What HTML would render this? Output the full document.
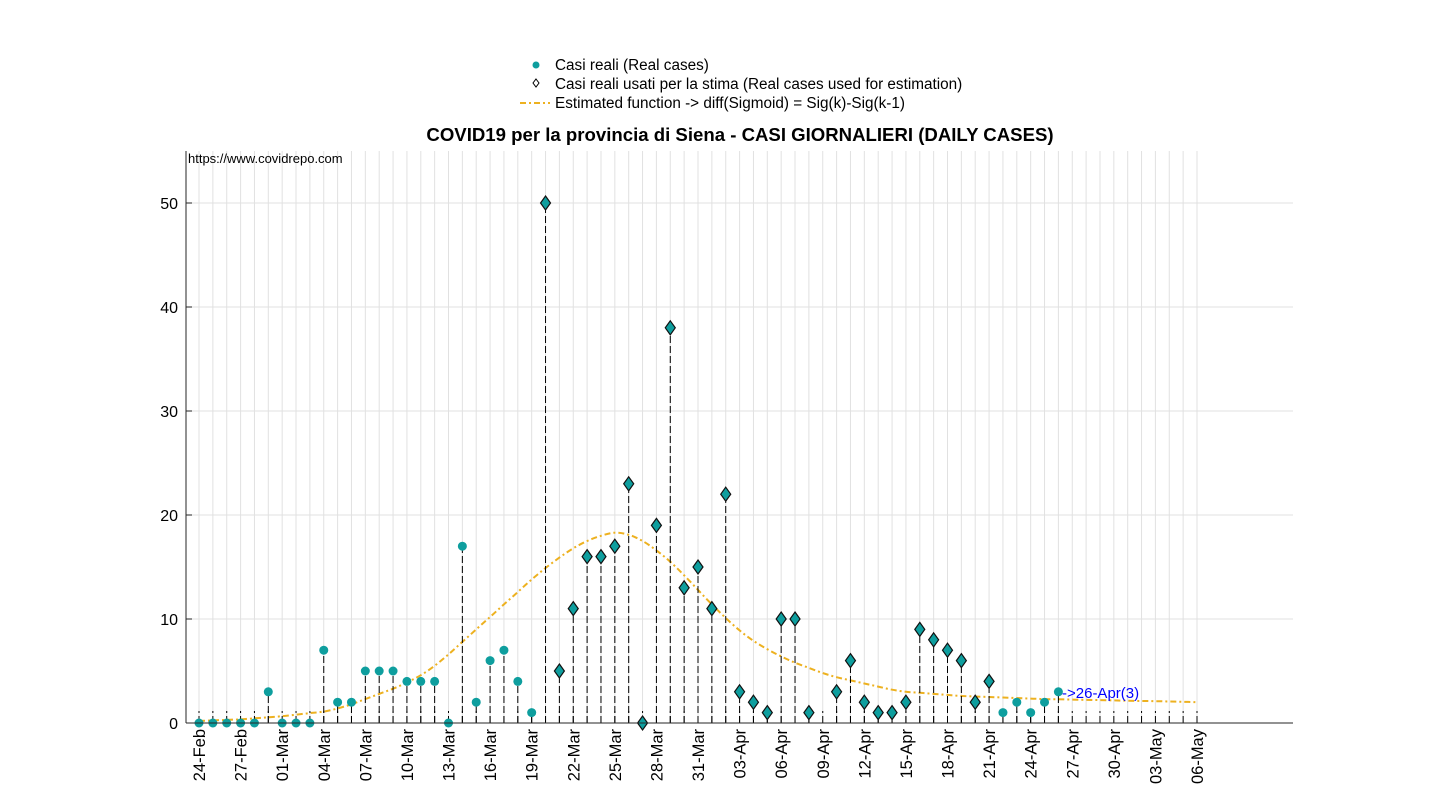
<!DOCTYPE html>
<html><head><meta charset="utf-8"><style>
body{margin:0;background:#fff;width:1430px;height:800px;overflow:hidden}
svg{font-family:"Liberation Sans",sans-serif}
</style></head><body>
<svg id="chart" width="1430" height="800">
<g id="legend">
 <g><circle cx="536" cy="65" r="3.5" fill="#0e9e9e"/><text x="555" y="70" font-size="15.3">Casi reali (Real cases)</text></g>
 <g><path d="M536,79 l3,4 l-3,4 l-3,-4z" fill="none" stroke="#000"/><text x="555" y="89" font-size="15.3">Casi reali usati per la stima (Real cases used for estimation)</text></g>
 <g><line x1="520" y1="103" x2="550" y2="103" stroke="#EDB120" stroke-width="2" stroke-dasharray="6,3,2,3"/><text x="555" y="108" font-size="15.3">Estimated function -&gt; diff(Sigmoid) = Sig(k)-Sig(k-1)</text></g>
</g>
<text x="740" y="141" font-size="18.6" font-weight="bold" text-anchor="middle">COVID19 per la provincia di Siena - CASI GIORNALIERI (DAILY CASES)</text>
<g id="grid"></g><g id="fit"></g><g id="stems"></g><g id="marks"></g><g id="axes"></g>
<text x="188" y="163" font-size="13">https://www.covidrepo.com</text>
<text x="1062" y="698" font-size="15" fill="#0000ff">-&gt;26-Apr(3)</text>
</svg>
<script>
const startDate = [2020, 1, 24];
const realCases = [0,0,0,0,0,3,0,0,0,7,2,2,5,5,5,4,4,4,0,17,2,6,7,4,1,50,5,11,16,16,17,23,0,19,38,13,15,11,22,3,2,1,10,10,1,null,3,6,2,1,1,2,9,8,7,6,2,4,1,2,1,2,3];
const usedFirst = 25, usedLast = 57;
const fitValues = [0.2,0.25,0.3,0.35,0.45,0.55,0.65,0.8,0.95,1.1,1.4,1.8,2.3,2.8,3.3,3.9,4.6,5.5,6.6,7.8,9.0,10.2,11.4,12.6,13.8,14.9,15.9,16.8,17.5,18.0,18.3,18.1,17.5,16.6,15.5,14.2,12.8,11.4,10.1,8.9,7.9,7.1,6.4,5.8,5.3,4.8,4.4,4.1,3.8,3.5,3.2,3.0,2.9,2.8,2.7,2.6,2.55,2.5,2.45,2.4,2.35,2.3,2.28,2.25,2.22,2.2,2.17,2.14,2.12,2.1,2.07,2.04,2.0];
const yTicks = [0,10,20,30,40,50];
const nDays = 73;
const X0=199, DX=(1197-199)/72, Y0=723, DY=10.4;
const xs=i=>X0+i*DX, ys=v=>Y0-v*DY;
const NS="http://www.w3.org/2000/svg";
function mk(tag,attrs,parent){const e=document.createElementNS(NS,tag);for(const k in attrs)e.setAttribute(k,attrs[k]);parent.appendChild(e);return e;}
const grid=document.getElementById('grid'),axes=document.getElementById('axes'),stems=document.getElementById('stems'),marks=document.getElementById('marks'),fit=document.getElementById('fit');
const mon=['Jan','Feb','Mar','Apr','May'];
for(let i=0;i<nDays;i++){
 const g=mk('line',{x1:xs(i),x2:xs(i),y1:151,y2:723,stroke:'#e1e1e1','stroke-width':1},grid);
 
 
 const s=mk('line',{x1:xs(i),x2:xs(i),y1:723,y2:711,stroke:'#000','stroke-width':1,'stroke-dasharray':'7,3'},stems);
 
 
 if(i%3===0){
  const d=new Date(startDate[0],startDate[1],startDate[2]+i);
  const lbl=String(d.getDate()).padStart(2,'0')+'-'+mon[d.getMonth()];
  const t=mk('text',{x:0,y:0,'font-size':16.5,'text-anchor':'end',transform:`translate(${xs(i)+6},729) rotate(-90)`},axes);
  t.textContent=lbl;
  
  
 }
}
yTicks.forEach(v=>{
 const l=mk('line',{x1:186,x2:1293,y1:ys(v),y2:ys(v),stroke:'#e1e1e1'},grid);
 
 
 mk('line',{x1:186,x2:192,y1:ys(v),y2:ys(v),stroke:'#262626'},axes);
 const t=mk('text',{x:178,y:ys(v)+6,'font-size':16,'text-anchor':'end'},axes);
 t.textContent=v;
 
 
});
const ya=mk('line',{x1:186,x2:186,y1:151,y2:723,stroke:'#262626'},axes);


const xa=mk('line',{x1:186,x2:1293,y1:723,y2:723,stroke:'#262626'},axes);


const P=fitValues.map((v,i)=>[xs(i),ys(v)]);
let d='M'+P[0][0].toFixed(1)+','+P[0][1].toFixed(1);
for(let i=0;i<P.length-1;i++){
 const p0=P[Math.max(0,i-1)],p1=P[i],p2=P[i+1],p3=P[Math.min(P.length-1,i+2)];
 const c1=[p1[0]+(p2[0]-p0[0])/6,p1[1]+(p2[1]-p0[1])/6],c2=[p2[0]-(p3[0]-p1[0])/6,p2[1]-(p3[1]-p1[1])/6];
 d+=`C${c1[0].toFixed(1)},${c1[1].toFixed(1)} ${c2[0].toFixed(1)},${c2[1].toFixed(1)} ${p2[0].toFixed(1)},${p2[1].toFixed(1)}`;
}
const fp=mk('path',{d:d,fill:'none',stroke:'#EDB120','stroke-width':2,'stroke-dasharray':'6,3,2,3'},fit);


realCases.forEach((v,i)=>{
 if(v===null)return;
 const x=xs(i),y=ys(v);
 if(v>0){const s=mk('line',{x1:x,x2:x,y1:723,y2:y,stroke:'#000','stroke-dasharray':'7,3'},stems);
  
  }
 let m;
 if(i>=usedFirst&&i<=usedLast){
  m=mk('path',{d:`M${x},${y-7}L${x+5},${y}L${x},${y+7}L${x-5},${y}Z`,fill:'#0e9e9e',stroke:'#111','stroke-width':1.2},marks);
  
 } else {
  m=mk('circle',{cx:x,cy:y,r:4.5,fill:'#0e9e9e'},marks);
  
 }
 
});
</script>
</body></html>
